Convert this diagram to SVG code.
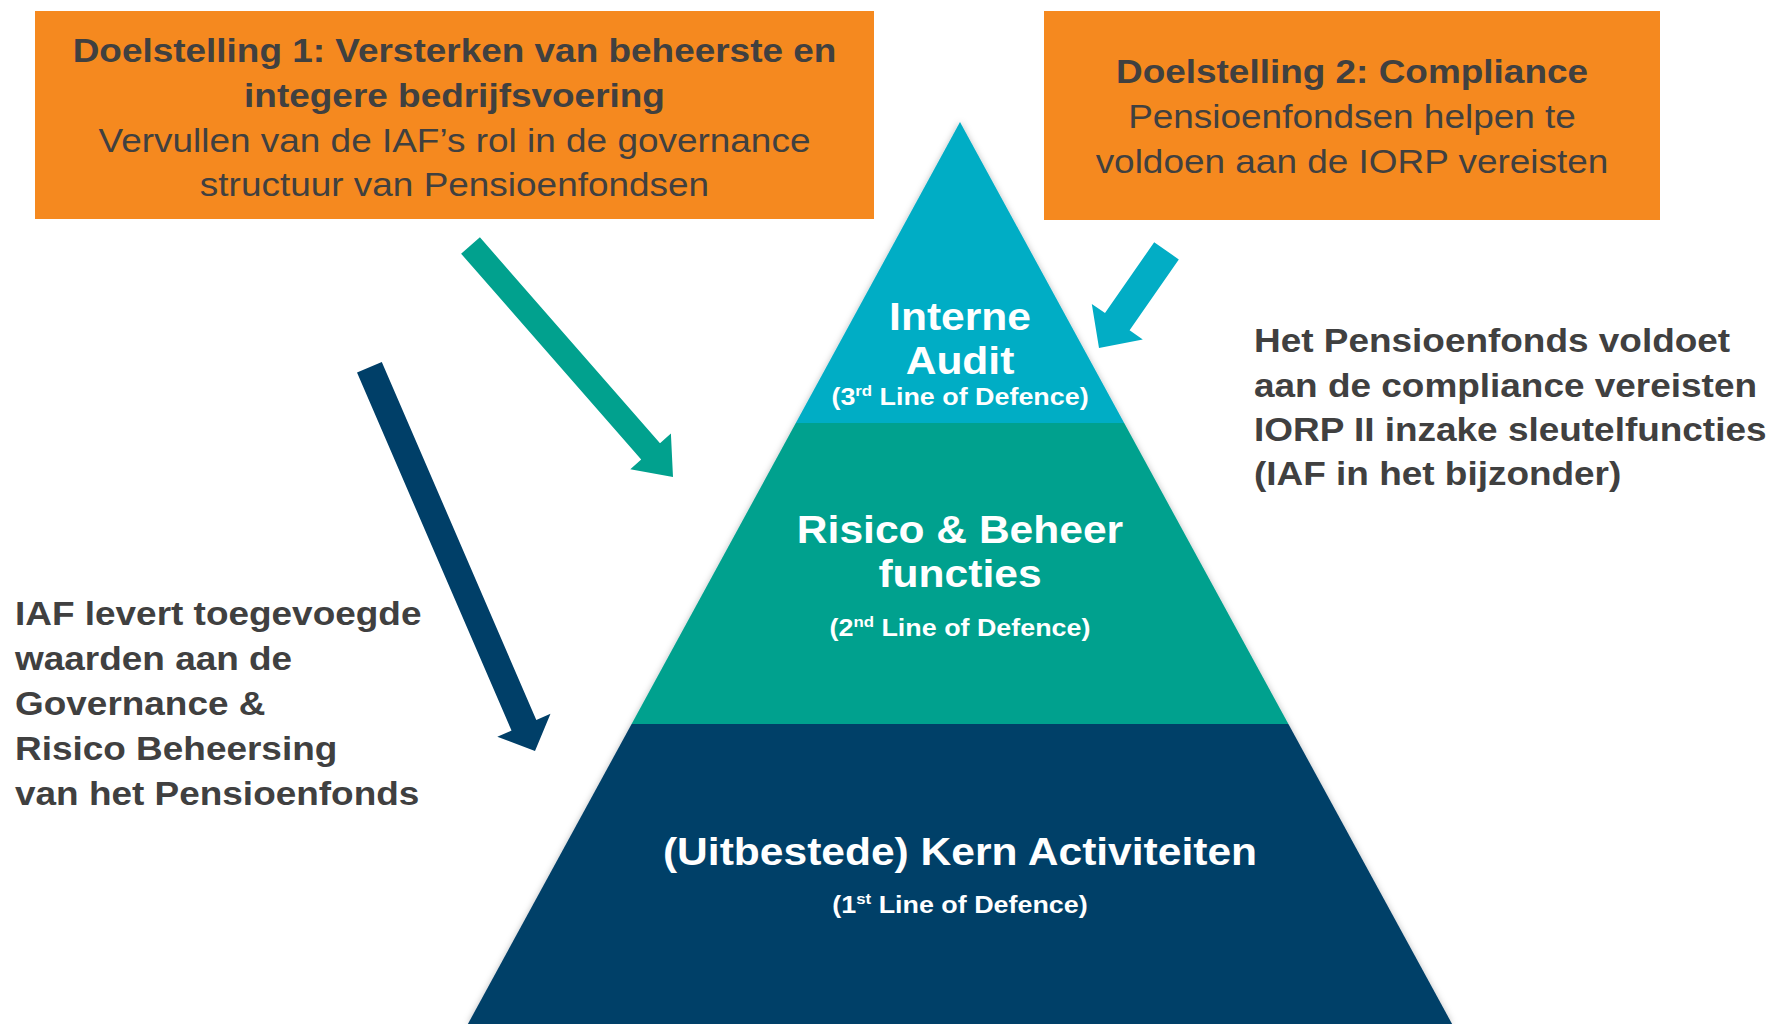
<svg xmlns="http://www.w3.org/2000/svg" width="1775" height="1024" viewBox="0 0 1775 1024">
<defs>
<style>
.box{fill:#F5891F}
.dk{fill:#404040;font-family:"Liberation Sans",Arial,sans-serif;font-size:33px}
.b{font-weight:bold}
.wt{fill:#FFFFFF;font-family:"Liberation Sans",Arial,sans-serif;font-weight:bold}
.t38{font-size:38px}
.t24{font-size:24px}
.mid{text-anchor:middle}
</style>
<filter id="sh" x="-10%" y="-10%" width="120%" height="120%">
<feDropShadow dx="0" dy="0" stdDeviation="3" flood-color="#000" flood-opacity="0.25"/>
</filter>
</defs>
<rect width="1775" height="1024" fill="#FFFFFF"/>

<g id="pyramid" filter="url(#sh)">
<polygon id="tier3" points="960,122 1124.2,423 795.8,423" fill="#02ADC5"/>
<polygon id="tier2" points="795.8,423 1124.2,423 1288.4,724 631.6,724" fill="#01A18E"/>
<polygon id="tier1" points="631.6,724 1288.4,724 1452.1,1024 467.9,1024" fill="#003F68"/>
</g>

<g id="node-goal1">
<rect class="box" x="35" y="11" width="839" height="208"/>
<g transform="translate(454.5,0) scale(1.12,1)">
<text class="dk b mid" x="0" y="62">Doelstelling 1: Versterken van beheerste en</text>
<text class="dk b mid" x="0" y="107">integere bedrijfsvoering</text>
<text class="dk mid" x="0" y="152">Vervullen van de IAF’s rol in de governance</text>
<text class="dk mid" x="0" y="196">structuur van Pensioenfondsen</text>
</g>
</g>

<g id="node-goal2">
<rect class="box" x="1044" y="11" width="616" height="209"/>
<g transform="translate(1352,0) scale(1.12,1)">
<text class="dk b mid" x="0" y="83">Doelstelling 2: Compliance</text>
<text class="dk mid" x="0" y="128">Pensioenfondsen helpen te</text>
<text class="dk mid" x="0" y="173">voldoen aan de IORP vereisten</text>
</g>
</g>

<g id="node-interne-audit" transform="translate(960,0) scale(1.12,1)">
<text class="wt t38 mid" x="0" y="330">Interne</text>
<text class="wt t38 mid" x="0" y="374">Audit</text>
<text class="wt t24 mid" x="0" y="405">(3<tspan font-size="15" dy="-9">rd</tspan><tspan dy="9"> Line of Defence)</tspan></text>
</g>

<g id="node-risico" transform="translate(960,0) scale(1.12,1)">
<text class="wt t38 mid" x="0" y="543">Risico &amp; Beheer</text>
<text class="wt t38 mid" x="0" y="587">functies</text>
<text class="wt t24 mid" x="0" y="636">(2<tspan font-size="15" dy="-9">nd</tspan><tspan dy="9"> Line of Defence)</tspan></text>
</g>

<g id="node-kern" transform="translate(960,0) scale(1.12,1)">
<text class="wt t38 mid" x="0" y="865">(Uitbestede) Kern Activiteiten</text>
<text class="wt t24 mid" x="0" y="913">(1<tspan font-size="15" dy="-9">st</tspan><tspan dy="9"> Line of Defence)</tspan></text>
</g>

<g id="node-right-text" transform="translate(1254,0) scale(1.12,1)">
<text class="dk b" x="0" y="352">Het Pensioenfonds voldoet</text>
<text class="dk b" x="0" y="397">aan de compliance vereisten</text>
<text class="dk b" x="0" y="441">IORP II inzake sleutelfuncties</text>
<text class="dk b" x="0" y="485">(IAF in het bijzonder)</text>
</g>

<g id="node-left-text" transform="translate(15,0) scale(1.12,1)">
<text class="dk b" x="0" y="625">IAF levert toegevoegde</text>
<text class="dk b" x="0" y="670">waarden aan de</text>
<text class="dk b" x="0" y="715">Governance &amp;</text>
<text class="dk b" x="0" y="760">Risico Beheersing</text>
<text class="dk b" x="0" y="805">van het Pensioenfonds</text>
</g>

<g id="connectors">
<polygon id="arrow-goal1" fill="#01A18E" points="461.1,253.7 479.9,237.3 660.0,443.2 670.9,433.6 673,477 630.3,469.2 641.2,459.6"/>
<polygon id="arrow-goal2" fill="#02ADC5" points="1178.8,259.4 1154.2,242.2 1105,313.1 1091.8,304.0 1099,348 1142.8,339.4 1129.6,330.3"/>
<polygon id="arrow-left" fill="#003F68" points="381.8,361.9 357.0,372.5 511.5,730.6 497.3,736.8 535,751 550.5,713.8 536.3,720.0"/>
</g>
</svg>
